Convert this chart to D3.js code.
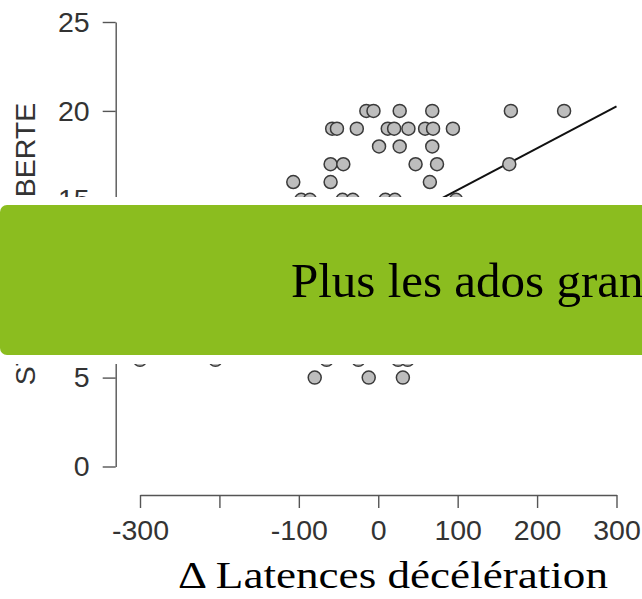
<!DOCTYPE html>
<html>
<head>
<meta charset="utf-8">
<script src="https://cdn.jsdelivr.net/npm/d3@7"></script>
<style>
  html, body { margin: 0; padding: 0; background: #fff; overflow: hidden; }
  svg { display: block; }
</style>
</head>
<body>
<div id="chart"></div>
<script>
// ---- data ----
const xTicks = [-300, -200, -100, 0, 100, 200, 300];
const xTickLabels = ["-300", "", "-100", "0", "100", "200", "300"];
const yTicks = [0, 5, 10, 15, 20, 25];
const latences = [
  -15, -6, 27, 68, 167, 234,
  -58, -52, -27, 12, 20, 38, 59, 69, 94,
  1, 27, 68,
  -60, -44, 47, 74, 165,
  -107, -60, 65,
  -97, -86, -45, -32, 9, 21, 98,
  -300, -205, -65, -25, 25, 37,
  -80, -12, 31
];
const puberte = [
  20, 20, 20, 20, 20, 20,
  19, 19, 19, 19, 19, 19, 19, 19, 19,
  18, 18, 18,
  17, 17, 17, 17, 17,
  16, 16, 16,
  15, 15, 15, 15, 15, 15, 15,
  6, 6, 6, 6, 6, 6,
  5, 5, 5
];
const fitIntercept = 13.2;
const fitSlope = 0.0235;
const fitRange = [-300, 300];
const xTitle = "Δ Latences décélération";
const yTitle = "STADE DE PUBERTE";
const bannerText = "Plus les ados grandissent, plus ils décélèrent";

// ---- drawing ----
const W = 642, H = 599;
const svg = d3.select("#chart").append("svg").attr("width", W).attr("height", H);

const x = d3.scaleLinear().domain([-300, 300]).range([140, 616.5]);
const y = d3.scaleLinear().domain([0, 25]).range([466.5, 22]);

const axisColor = "#555";
const labelColor = "#333";
const sans = "'Liberation Sans', Arial, sans-serif";
const serif = "'Liberation Serif', 'Times New Roman', serif";

// y axis
const gy = svg.append("g").attr("transform", "translate(115.7,0)")
  .call(d3.axisLeft(y).tickValues(yTicks).tickSize(13).tickSizeOuter(0).tickPadding(13));
// x axis
const gx = svg.append("g").attr("transform", "translate(0,495)")
  .call(d3.axisBottom(x).tickValues(xTicks).tickSize(13).tickSizeOuter(0).tickPadding(12)
    .tickFormat((d, i) => xTickLabels[i]));

[gx, gy].forEach(g => {
  g.selectAll("path, line").attr("stroke", axisColor).attr("stroke-width", 1.4);
  g.selectAll("text").attr("fill", labelColor).style("font-family", sans).style("font-size", "28.5px");
});

// y title
svg.append("text")
  .attr("transform", "translate(35,244) rotate(-90)")
  .attr("text-anchor", "middle")
  .style("font-family", sans).style("font-size", "28.5px")
  .attr("fill", labelColor)
  .text(yTitle);

// regression line
svg.append("line")
  .attr("x1", x(fitRange[0])).attr("y1", y(fitIntercept + fitSlope * fitRange[0]))
  .attr("x2", x(fitRange[1])).attr("y2", y(fitIntercept + fitSlope * fitRange[1]))
  .attr("stroke", "#111").attr("stroke-width", 2);

// points
svg.append("g").selectAll("circle")
  .data(latences.map((v, i) => [v, puberte[i]]))
  .join("circle")
  .attr("cx", d => x(d[0])).attr("cy", d => y(d[1]))
  .attr("r", 6.5)
  .attr("fill", "#bdbdbd").attr("stroke", "#3a3a3a").attr("stroke-width", 1.5);

// banner overlay (white border + green box)
svg.append("rect").attr("x", -20).attr("y", 197).attr("width", W + 40).attr("height", 167).attr("fill", "#fff");
svg.append("rect").attr("x", 0).attr("y", 205).attr("width", W + 40).attr("height", 150)
  .attr("rx", 7).attr("fill", "#8bbd1f");
svg.append("text")
  .attr("x", 291).attr("y", 297)
  .style("font-family", serif).style("font-size", "49px")
  .attr("fill", "#000")
  .text(bannerText);

// x title
svg.append("text")
  .attr("x", 178).attr("y", 588)
  .attr("textLength", 430).attr("lengthAdjust", "spacingAndGlyphs")
  .style("font-family", serif).style("font-size", "38px")
  .attr("fill", "#000")
  .text(xTitle);
</script>
</body>
</html>
